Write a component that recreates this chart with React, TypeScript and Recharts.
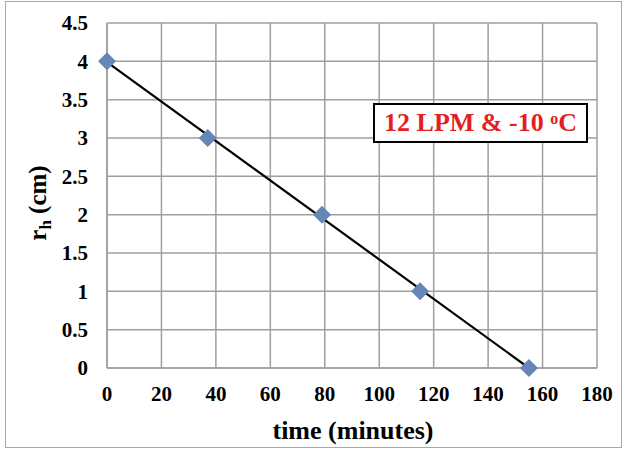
import {
  CartesianGrid,
  ComposedChart,
  Line,
  Scatter,
  XAxis,
  YAxis,
} from 'recharts';

// measured points
const timeMinutes = [0, 37, 79, 115, 155];
const radiusCm = [4, 3, 2, 1, 0];

// linear trend, end points
const trendTime = [0, 155];
const trendRadius = [3.99, 0];

const xTicks = [0, 20, 40, 60, 80, 100, 120, 140, 160, 180];
const yTicks = [0, 0.5, 1, 1.5, 2, 2.5, 3, 3.5, 4, 4.5];

const points = timeMinutes.map((t, i) => ({ t, r: radiusCm[i] }));
const trend = trendTime.map((t, i) => ({ t, fit: trendRadius[i] }));

const serif = "'Liberation Serif', 'DejaVu Serif', serif";
const gridColor = '#9f9f9f';
const markerColor = '#6786b8';

const Diamond = (props: any) => {
  const { cx, cy } = props;
  const s = 9;
  return (
    <polygon
      points={`${cx},${cy - s} ${cx + s},${cy} ${cx},${cy + s} ${cx - s},${cy}`}
      fill={markerColor}
    />
  );
};

const YTitle = () => (
  <text
    transform="rotate(-90)"
    x={-203}
    y={46}
    textAnchor="middle"
    style={{ fontFamily: serif, fontWeight: 'bold', fontSize: 25 }}
    fill="#000"
  >
    r
    <tspan dy={5} style={{ fontSize: 17 }}>h</tspan>
    <tspan dy={-5}> (cm)</tspan>
  </text>
);

const XTitle = () => (
  <text
    x={353}
    y={439}
    textAnchor="middle"
    style={{ fontFamily: serif, fontWeight: 'bold', fontSize: 26 }}
    fill="#000"
  >
    time (minutes)
  </text>
);

export default function App() {
  const tickStyle = { style: { fontFamily: serif, fontWeight: 'bold', fontSize: 21 }, fill: '#000' };

  return (
    <div style={{ position: 'absolute', left: 0, top: 0, width: 625, height: 451, background: '#fff', fontFamily: serif }}>
      <div
        style={{
          position: 'absolute',
          left: 5,
          top: 1,
          width: 617,
          height: 447,
          border: '1.5px solid #a8a8a8',
          boxSizing: 'border-box',
        }}
      />
      <ComposedChart
        width={625}
        height={451}
        margin={{ top: 23, right: 28, bottom: 0, left: 0 }}
        style={{ position: 'absolute', left: 0, top: 0 }}
      >
        <CartesianGrid stroke={gridColor} strokeWidth={1.5} />
        <XAxis
          type="number"
          dataKey="t"
          domain={[0, 180]}
          ticks={xTicks}
          height={83}
          tickLine={false}
          axisLine={{ stroke: gridColor, strokeWidth: 1.5 }}
          tickSize={6}
          tickMargin={12}
          tick={tickStyle}
          interval={0}
          label={<XTitle />}
        />
        <YAxis
          type="number"
          domain={[0, 4.5]}
          ticks={yTicks}
          width={107}
          tickLine={false}
          axisLine={{ stroke: gridColor, strokeWidth: 1.5 }}
          tickSize={6}
          tickMargin={13}
          tick={tickStyle}
          interval={0}
          label={<YTitle />}
        />
        <Line
          data={trend}
          dataKey="fit"
          type="linear"
          stroke="#000"
          strokeWidth={2.2}
          dot={false}
          activeDot={false}
          isAnimationActive={false}
        />
        <Scatter data={points} dataKey="r" shape={<Diamond />} isAnimationActive={false} />
      </ComposedChart>
      <div
        style={{
          position: 'absolute',
          left: 373,
          top: 103,
          width: 215,
          height: 40,
          border: '2px solid #000',
          boxSizing: 'border-box',
          background: '#fff',
          color: '#e31e24',
          fontFamily: serif,
          fontWeight: 'bold',
          fontSize: 26,
          lineHeight: '36px',
          textAlign: 'center',
          whiteSpace: 'nowrap',
        }}
      >
        12 LPM &amp; -10 <sup style={{ fontSize: 16, verticalAlign: 'top', lineHeight: '28px' }}>o</sup>C
      </div>
    </div>
  );
}
